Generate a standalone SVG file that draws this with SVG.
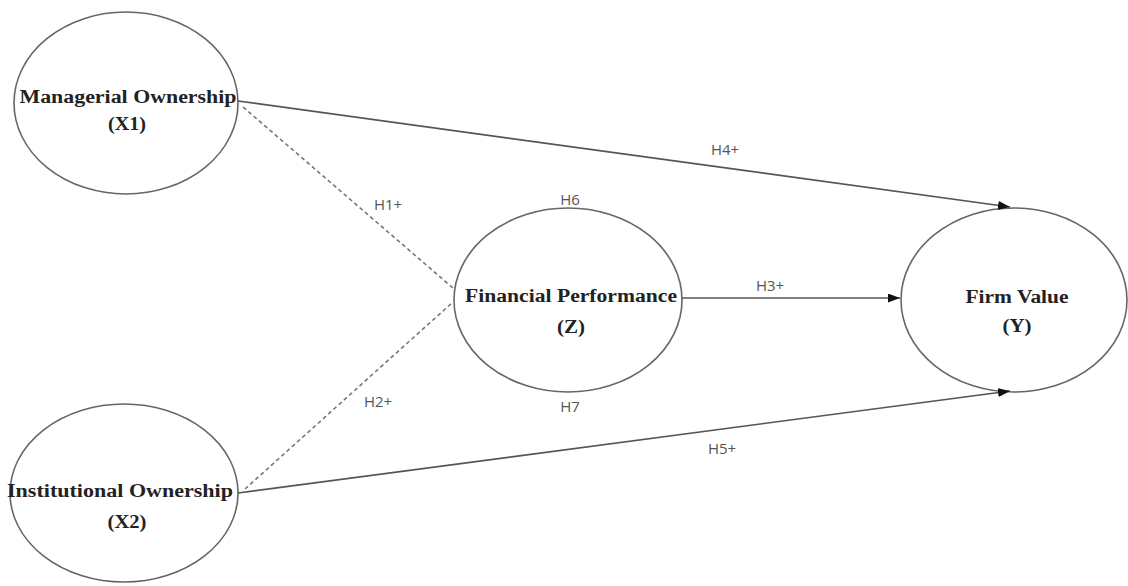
<svg xmlns="http://www.w3.org/2000/svg" width="1128" height="586" viewBox="0 0 1128 586">
<defs>
<style>
.node ellipse{fill:#fff;stroke:#666;stroke-width:1.6}
.lbl{font-family:"Liberation Serif","Times New Roman",serif;font-weight:bold;font-size:18px;fill:#222;text-anchor:middle}
.conn{stroke:#555;stroke-width:1.7;fill:none}
.dash{stroke:#777;stroke-width:1.6;fill:none;stroke-dasharray:4 3}
.hyp{font-family:"Open Sans","Liberation Sans",sans-serif;font-size:15px;fill:#555;text-anchor:middle}
</style>
<marker id="arr" viewBox="0 0 12 9" refX="12" refY="4.5" markerWidth="12" markerHeight="9" markerUnits="userSpaceOnUse" orient="auto">
<path d="M0,0 L12,4.5 L0,9 Z" fill="#111"/>
</marker>
</defs>
<rect width="1128" height="586" fill="#fff"/>
<g id="x1" class="node">
<ellipse cx="126" cy="103" rx="112" ry="91"/>
<text class="lbl" x="128" y="103" textLength="217" lengthAdjust="spacingAndGlyphs">Managerial Ownership</text>
<text class="lbl" x="127" y="130" textLength="38" lengthAdjust="spacingAndGlyphs">(X1)</text>
</g>
<g id="x2" class="node">
<ellipse cx="124" cy="493" rx="114" ry="89"/>
<text class="lbl" x="120" y="497" textLength="226" lengthAdjust="spacingAndGlyphs">Institutional Ownership</text>
<text class="lbl" x="127" y="528" textLength="39" lengthAdjust="spacingAndGlyphs">(X2)</text>
</g>
<g id="z" class="node">
<ellipse cx="568" cy="300" rx="114" ry="92"/>
<text class="lbl" x="571" y="302" textLength="212" lengthAdjust="spacingAndGlyphs">Financial Performance</text>
<text class="lbl" x="571" y="333" textLength="28" lengthAdjust="spacingAndGlyphs">(Z)</text>
</g>
<g id="y" class="node">
<ellipse cx="1014" cy="300" rx="113" ry="92"/>
<text class="lbl" x="1017" y="303" textLength="103" lengthAdjust="spacingAndGlyphs">Firm Value</text>
<text class="lbl" x="1017" y="332" textLength="29" lengthAdjust="spacingAndGlyphs">(Y)</text>
</g>
<g id="connectors">
<line class="conn" x1="238" y1="101" x2="1010" y2="207" marker-end="url(#arr)"/>
<line class="conn" x1="238" y1="493" x2="1010" y2="391" marker-end="url(#arr)"/>
<line class="conn" x1="682" y1="298" x2="900" y2="298" marker-end="url(#arr)"/>
<line class="dash" x1="243" y1="107" x2="453" y2="288"/>
<line class="dash" x1="245" y1="489" x2="453" y2="302"/>
<text class="hyp" x="725" y="155">H4+</text>
<text class="hyp" x="388" y="210">H1+</text>
<text class="hyp" x="570" y="205">H6</text>
<text class="hyp" x="770" y="291">H3+</text>
<text class="hyp" x="378" y="407">H2+</text>
<text class="hyp" x="570" y="412">H7</text>
<text class="hyp" x="722" y="454">H5+</text>
</g>
</svg>
